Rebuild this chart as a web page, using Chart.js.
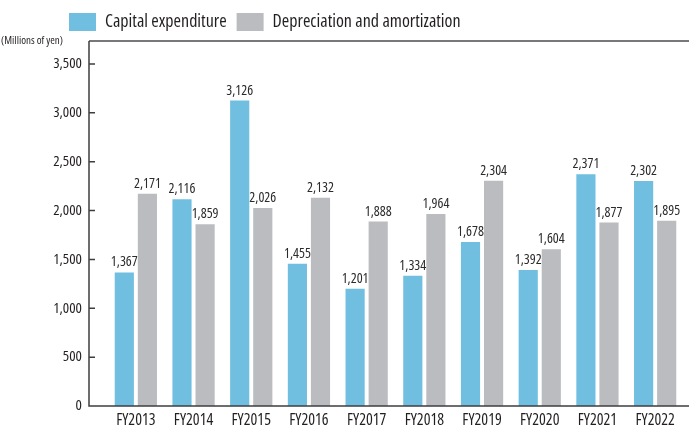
<!DOCTYPE html>
<html>
<head>
<meta charset="utf-8">
<script src="https://cdn.jsdelivr.net/npm/chart.js@4.4.1/dist/chart.umd.min.js"></script>
<style>
  body { margin: 0; background: #fff; }
  #wrap { width: 689px; height: 430px; }
</style>
</head>
<body>
<div id="wrap"><canvas id="capexChart" width="689" height="430"></canvas></div>
<script>
const years = ['FY2013', 'FY2014', 'FY2015', 'FY2016', 'FY2017', 'FY2018', 'FY2019', 'FY2020', 'FY2021', 'FY2022'];
const capex = [1367, 2116, 3126, 1455, 1201, 1334, 1678, 1392, 2371, 2302];
const depreciation = [2171, 1859, 2026, 2132, 1888, 1964, 2304, 1604, 1877, 1895];
const yTicks = [0, 500, 1000, 1500, 2000, 2500, 3000, 3500];

// Open Sans has a width axis, "condensed" picks the narrow cut
const FONT = "'Open Sans', sans-serif";
const STRETCH = 'condensed';
const TEXT = '#231f20';

const fmt = v => v.toLocaleString('en-US');

// frame lines, inward ticks and the unit label
const framePlugin = {
    id: 'frame',
    beforeInit(chart) {
        const origFit = chart.legend.fit;
        chart.legend.fit = function () {
            origFit.call(this);
            this.height += 23;
        };
    },
    afterLayout(chart) {
        // let the y labels use the space left of the legend padding
        chart.scales.y.left = 0;
    },
    afterDraw(chart) {
        const { ctx, chartArea: a, scales: { y } } = chart;
        const x0 = a.left - 18;
        const top = a.top - 23;
        ctx.save();
        ctx.lineWidth = 2;
        ctx.strokeStyle = '#77787b';
        ctx.beginPath();
        ctx.moveTo(x0, top);
        ctx.lineTo(chart.width, top);
        ctx.stroke();

        ctx.lineWidth = 1.5;
        ctx.strokeStyle = '#3e3e40';
        ctx.beginPath();
        ctx.moveTo(x0, top);
        ctx.lineTo(x0, a.bottom);
        ctx.lineTo(chart.width, a.bottom);
        yTicks.forEach(t => {
            const py = y.getPixelForValue(t);
            ctx.moveTo(x0, py);
            ctx.lineTo(x0 + 6, py);
        });
        ctx.stroke();

        ctx.fillStyle = TEXT;
        ctx.font = STRETCH + " 11px " + FONT;
        ctx.textAlign = 'right';
        ctx.textBaseline = 'middle';
        ctx.fillText('(Millions of yen)', x0 - 26, top);
        ctx.restore();
    }
};

const valueLabels = {
    id: 'valueLabels',
    afterDatasetsDraw(chart) {
        const { ctx } = chart;
        ctx.save();
        ctx.fillStyle = '#2b2b2b';
        ctx.font = STRETCH + " 14px " + FONT;
        ctx.textAlign = 'center';
        ctx.textBaseline = 'alphabetic';
        chart.data.datasets.forEach((ds, i) => {
            chart.getDatasetMeta(i).data.forEach((bar, j) => {
                ctx.fillText(fmt(ds.data[j]), bar.x, bar.y - 6);
            });
        });
        ctx.restore();
    }
};

new Chart(document.getElementById('capexChart'), {
    type: 'bar',
    data: {
        labels: years,
        datasets: [
            {
                label: 'Capital expenditure',
                data: capex,
                backgroundColor: '#70bee0'
            },
            {
                label: 'Depreciation and amortization',
                data: depreciation,
                backgroundColor: '#bbbcc0'
            }
        ]
    },
    options: {
        responsive: false,
        animation: false,
        layout: { padding: { left: 59, right: 5, top: 3, bottom: 0 } },
        datasets: {
            bar: { categoryPercentage: 0.8, barPercentage: 0.83 }
        },
        plugins: {
            tooltip: { enabled: false },
            legend: {
                align: 'start',
                labels: {
                    boxWidth: 27,
                    boxHeight: 18,
                    padding: 10,
                    color: TEXT,
                    font: { family: FONT, weight: '500 ' + STRETCH, size: 18 }
                }
            }
        },
        scales: {
            x: {
                afterFit(scale) { scale.height = 24; },
                grid: { display: false, drawTicks: false },
                border: { display: false },
                ticks: {
                    color: TEXT,
                    maxRotation: 0,
                    padding: 5,
                    font: { family: FONT, weight: STRETCH, size: 16 }
                }
            },
            y: {
                min: 0,
                max: 3500,
                afterFit(scale) {
                    scale.width = 48;
                    // tick padding would otherwise leak into the vertical padding
                    scale.paddingTop = 9;
                    scale.paddingBottom = 9;
                },
                afterBuildTicks(scale) { scale.ticks = yTicks.map(v => ({ value: v })); },
                grid: { display: false, drawTicks: false },
                border: { display: false },
                ticks: {
                    color: TEXT,
                    padding: 25,
                    font: { family: FONT, weight: STRETCH, size: 15 },
                    callback: v => fmt(v)
                }
            }
        }
    },
    plugins: [framePlugin, valueLabels]
});
</script>
</body>
</html>
